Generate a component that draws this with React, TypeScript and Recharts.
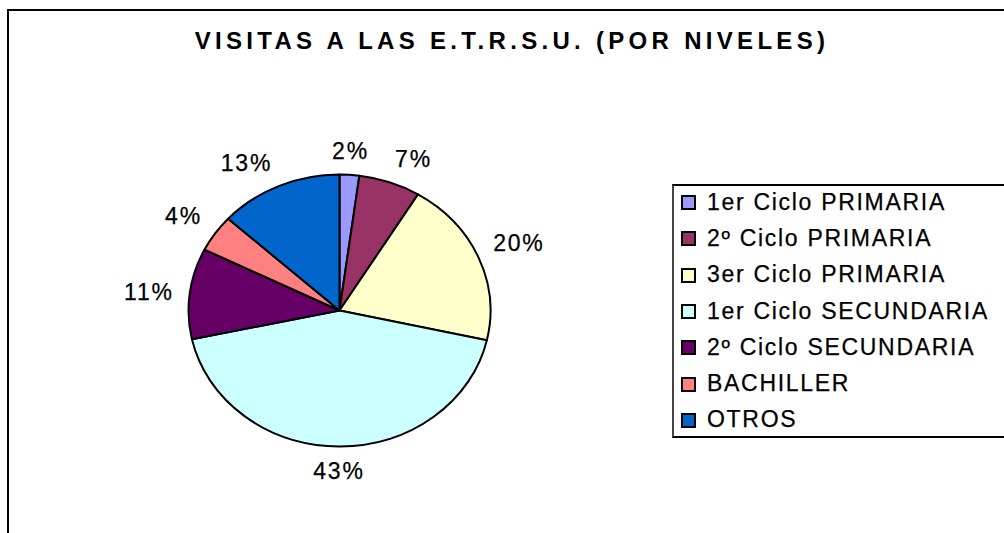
import React from "react";
import { PieChart, Pie, Legend } from "recharts";

// niveles, porcentaje de visitas y colores (paleta clásica de Excel)
const categories = [
  "1er Ciclo PRIMARIA",
  "2º Ciclo PRIMARIA",
  "3er Ciclo PRIMARIA",
  "1er Ciclo SECUNDARIA",
  "2º Ciclo SECUNDARIA",
  "BACHILLER",
  "OTROS",
];
const shares = [2.1, 6.6, 19.8, 43.1, 10.8, 4.4, 13.2];
const colors = ["#9999FF", "#993366", "#FFFFCC", "#CCFFFF", "#660066", "#FF8080", "#0066CC"];

const TITLE = "VISITAS A LAS E.T.R.S.U. (POR NIVELES)";

const FONT = "'Liberation Sans', Arial, sans-serif";
const RAD = Math.PI / 180;
const RY = 0.9; // the original pie is a bit squashed vertically
const GAP = 16;
const LABEL_SIZE = 23;

const data = categories.map((name, i) => ({ name, value: shares[i], fill: colors[i] }));

const EllipseSector = (props: any) => {
  const { cx, cy, outerRadius, startAngle, endAngle, fill } = props;
  const rx = outerRadius;
  const ry = outerRadius * RY;
  const pt = (a: number) => [cx + rx * Math.cos(-a * RAD), cy + ry * Math.sin(-a * RAD)];
  const [x1, y1] = pt(startAngle);
  const [x2, y2] = pt(endAngle);
  const large = Math.abs(endAngle - startAngle) > 180 ? 1 : 0;
  const sweep = startAngle > endAngle ? 1 : 0;
  const d = `M${cx},${cy} L${x1},${y1} A${rx},${ry} 0 ${large} ${sweep} ${x2},${y2} Z`;
  return <path d={d} fill={fill} stroke="#000" strokeWidth={2} strokeLinejoin="round" />;
};

const renderLabel = (p: any) => {
  const { cx, cy, midAngle, outerRadius, value } = p;
  const ux = Math.cos(-midAngle * RAD);
  const uy = Math.sin(-midAngle * RAD);
  const ex = cx + (outerRadius + GAP) * ux;
  const ey = cy + (outerRadius * RY + GAP) * uy;
  const cap = LABEL_SIZE * 0.716;
  const anchor = ux > 0.1 ? "start" : ux < -0.1 ? "end" : "middle";
  const y = uy < -0.3 ? ey : uy > 0.3 ? ey + cap : ey + cap / 2;
  return (
    <text
      x={ex}
      y={y}
      textAnchor={anchor}
      fontFamily={FONT}
      fontSize={LABEL_SIZE}
      letterSpacing={1.8}
      fill="#000"
      stroke="#000"
      strokeWidth={0.25}
    >
      {Math.round(value)}%
    </text>
  );
};

const renderLegend = (props: any) => {
  // keep the data order (recharts sorts legend items by name)
  const items = [...(props.payload || [])].sort(
    (a: any, b: any) => categories.indexOf(a.value) - categories.indexOf(b.value)
  );
  return (
    <div
      style={{
        boxSizing: "border-box",
        width: 360,
        height: 254,
        borderTop: "2px solid #000",
        borderBottom: "2px solid #000",
        borderLeft: "2px solid #444",
        background: "#fff",
        fontFamily: FONT,
        fontSize: 23,
        letterSpacing: 1.7,
        color: "#000",
        WebkitTextStroke: "0.25px #000",
      }}
    >
      <div style={{ marginTop: -2 }}>
        {items.map((it: any) => (
          <div
            key={it.value}
            style={{ height: 36.3, display: "flex", alignItems: "center", whiteSpace: "nowrap" }}
          >
            <span
              style={{
                boxSizing: "border-box",
                width: 15,
                height: 15,
                marginLeft: 7,
                marginRight: 11,
                marginTop: 1,
                border: "2px solid #000",
                background: it.color,
                flex: "none",
              }}
            />
            <span>{it.value}</span>
          </div>
        ))}
      </div>
    </div>
  );
};

export default function App() {
  return (
    <div
      style={{
        position: "fixed",
        left: 0,
        top: 0,
        width: 1004,
        height: 533,
        overflow: "hidden",
        background: "#fff",
      }}
    >
      {/* marco del gráfico, sólo se ven los lados superior e izquierdo */}
      <div
        style={{
          position: "absolute",
          left: 7,
          top: 9,
          width: 1100,
          height: 700,
          borderLeft: "2px solid #000",
          borderTop: "2px solid #000",
        }}
      />
      <div style={{ position: "absolute", left: 0, top: 0 }}>
        <PieChart width={1004} height={533} margin={{ top: 0, right: 0, bottom: 0, left: 0 }}>
          <text
            x={512}
            y={49}
            textAnchor="middle"
            fontFamily={FONT}
            fontWeight="bold"
            fontSize={24}
            letterSpacing={4.3}
            fill="#000"
          >
            {TITLE}
          </text>
          <Pie
            data={data}
            dataKey="value"
            nameKey="name"
            cx={339.5}
            cy={310.5}
            outerRadius={151}
            startAngle={90}
            endAngle={-270}
            stroke="#000"
            strokeWidth={2}
            shape={EllipseSector}
            activeShape={EllipseSector}
            label={renderLabel}
            labelLine={false}
            isAnimationActive={false}
          />
          <Legend
            layout="vertical"
            align="right"
            verticalAlign="middle"
            content={renderLegend}
            wrapperStyle={{ left: 672, top: 184, right: "auto", width: 360 }}
          />
        </PieChart>
      </div>
    </div>
  );
}
